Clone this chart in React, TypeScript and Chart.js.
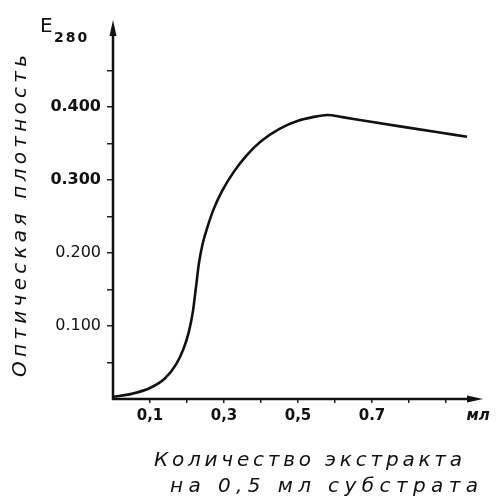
import React, { useEffect, useRef } from "react";
import { Chart, registerables } from "chart.js";

Chart.register(...registerables);

const xValues = [0, 0.05, 0.1, 0.14, 0.17, 0.19, 0.205, 0.216, 0.224, 0.232, 0.242, 0.255, 0.272, 0.295, 0.325, 0.36, 0.4, 0.45, 0.5, 0.54, 0.58, 0.62, 0.68, 0.78, 0.87, 0.957];
const yValues = [0.003, 0.007, 0.015, 0.028, 0.047, 0.068, 0.092, 0.12, 0.152, 0.185, 0.212, 0.235, 0.26, 0.285, 0.31, 0.333, 0.353, 0.37, 0.381, 0.386, 0.389, 0.386, 0.381, 0.373, 0.366, 0.359];

const yTickValues = [0.05, 0.1, 0.15, 0.2, 0.25, 0.3, 0.35, 0.4, 0.45];
const yTickLabels: Record<string, string> = { "0.1": "0.100", "0.2": "0.200", "0.3": "0.300", "0.4": "0.400" };
const xTickValues = [0.1, 0.2, 0.3, 0.4, 0.5, 0.6, 0.7, 0.8, 0.9];
const xTickLabels: Record<string, string> = { "0.1": "0,1", "0.3": "0,3", "0.5": "0,5", "0.7": "0.7" };

const yAxisTitle = "Оптическая плотность";
const xAxisTitle = ["Количество экстракта", "на 0,5 мл субстрата"];
const xUnit = "мл";
const yUnitMain = "E";
const yUnitSub = "280";

function keyOf(v: number) {
  return String(Math.round(v * 100) / 100);
}

function drawSpaced(ctx: CanvasRenderingContext2D, text: string, cx: number, y: number, target: number) {
  (ctx as any).letterSpacing = "0px";
  const w = ctx.measureText(text).width;
  const sp = Math.max(0, (target - w) / Math.max(1, text.length - 1));
  (ctx as any).letterSpacing = sp + "px";
  const w2 = ctx.measureText(text).width;
  ctx.textAlign = "left";
  ctx.fillText(text, cx - (w2 - sp) / 2, y);
  (ctx as any).letterSpacing = "0px";
}

const decorPlugin = {
  id: "decor",
  beforeDraw(chart: any) {
    const ctx = chart.ctx as CanvasRenderingContext2D;
    ctx.save();
    ctx.fillStyle = "#ffffff";
    ctx.fillRect(0, 0, chart.width, chart.height);
    ctx.restore();
  },
  afterDraw(chart: any) {
    const ctx = chart.ctx as CanvasRenderingContext2D;
    const xs = chart.scales.x;
    const ys = chart.scales.y;
    const x0 = xs.getPixelForValue(0);
    const y0 = ys.getPixelForValue(0);
    const xEnd = xs.getPixelForValue(xs.max);
    const yEnd = ys.getPixelForValue(ys.max);
    ctx.save();
    ctx.strokeStyle = "#111";
    ctx.fillStyle = "#111";
    ctx.lineWidth = 2.5;
    ctx.beginPath();
    ctx.moveTo(x0, y0 + 1);
    ctx.lineTo(x0, yEnd + 8);
    ctx.moveTo(x0 - 1, y0);
    ctx.lineTo(xEnd - 8, y0);
    ctx.stroke();
    // arrows
    ctx.beginPath();
    ctx.moveTo(x0, yEnd);
    ctx.lineTo(x0 - 3.5, yEnd + 16);
    ctx.lineTo(x0 + 3.5, yEnd + 16);
    ctx.closePath();
    ctx.fill();
    ctx.beginPath();
    ctx.moveTo(xEnd, y0);
    ctx.lineTo(xEnd - 16, y0 - 3.5);
    ctx.lineTo(xEnd - 16, y0 + 3.5);
    ctx.closePath();
    ctx.fill();

    // unit labels
    ctx.textBaseline = "alphabetic";
    ctx.textAlign = "left";
    ctx.font = "20px 'DejaVu Sans'";
    ctx.fillText(yUnitMain, 40, 32);
    ctx.font = "bold 14px 'DejaVu Sans'";
    (ctx as any).letterSpacing = "2px";
    ctx.fillText(yUnitSub, 54, 42);
    (ctx as any).letterSpacing = "0px";
    ctx.font = "italic bold 15px 'DejaVu Sans'";
    ctx.textAlign = "center";
    ctx.fillText(xUnit, 478, 420);

    // axis titles
    ctx.font = "italic 20px 'DejaVu Sans'";
    drawSpaced(ctx, xAxisTitle[0], 308, 466, 308);
    drawSpaced(ctx, xAxisTitle[1], 324, 492, 308);
    ctx.save();
    ctx.translate(26, 216);
    ctx.rotate(-Math.PI / 2);
    drawSpaced(ctx, yAxisTitle, 0, 0, 322);
    ctx.restore();
    ctx.restore();
  },
};

export default function App() {
  const ref = useRef<HTMLCanvasElement | null>(null);
  useEffect(() => {
    if (!ref.current) return;
    const data = xValues.map((x, i) => ({ x, y: yValues[i] }));
    const chart = new Chart(ref.current, {
      type: "line",
      data: {
        datasets: [
          {
            data,
            borderColor: "#111",
            borderWidth: 2.6,
            pointRadius: 0,
            cubicInterpolationMode: "monotone",
            fill: false,
          },
        ],
      },
      options: {
        animation: false,
        responsive: false,
        devicePixelRatio: 1,
        layout: { padding: { top: 20, right: 15, left: 0, bottom: 0 } },
        plugins: { legend: { display: false }, tooltip: { enabled: false } },
        scales: {
          x: {
            type: "linear",
            min: 0,
            max: 1.0,
            border: { display: false },
            grid: { display: true, drawOnChartArea: false, drawTicks: true, tickLength: 4, color: "#222", lineWidth: 1.5 },
            afterBuildTicks: (s: any) => {
              s.ticks = xTickValues.map((v) => ({ value: v }));
            },
            afterFit: (s: any) => {
              s.height = 100;
            },
            ticks: {
              color: "#111",
              padding: 4,
              maxRotation: 0,
              autoSkip: false,
              font: { family: "'DejaVu Sans'", size: 15, weight: "bold" },
              callback: (v: any) => xTickLabels[keyOf(Number(v))] ?? "",
            },
          },
          y: {
            type: "linear",
            min: 0,
            max: 0.519,
            border: { display: false },
            grid: { display: true, drawOnChartArea: false, drawTicks: true, tickLength: 6, color: "#222", lineWidth: 1.5 },
            afterBuildTicks: (s: any) => {
              s.ticks = yTickValues.map((v) => ({ value: v }));
            },
            afterFit: (s: any) => {
              s.width = 113;
            },
            ticks: {
              color: "#111",
              padding: 6,
              autoSkip: false,
              font: (c: any) => {
                const v = c.tick ? c.tick.value : 0;
                const bold = v > 0.25;
                return { family: "'DejaVu Sans'", size: 16, weight: bold ? "bold" : "normal" };
              },
              callback: (v: any) => yTickLabels[keyOf(Number(v))] ?? "",
            },
          },
        },
      },
      plugins: [decorPlugin],
    } as any);
    return () => chart.destroy();
  }, []);
  return (
    <div style={{ position: "fixed", left: 0, top: 0, width: 498, height: 499, background: "#fff" }}>
      <canvas ref={ref} width={498} height={499} style={{ display: "block", width: 498, height: 499 }} />
    </div>
  );
}
